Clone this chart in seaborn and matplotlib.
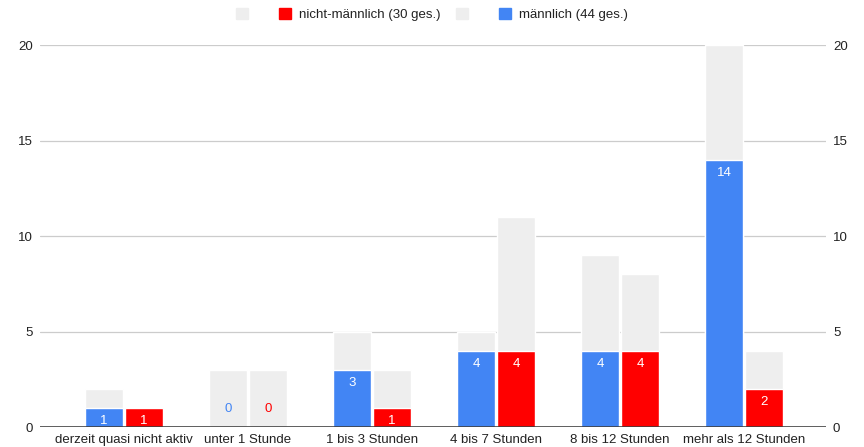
import matplotlib
matplotlib.use('Agg')
import matplotlib.pyplot as plt
import matplotlib.patches as mpatches
import pandas as pd
import seaborn as sns

#######################################################################################################################
# DATA #
#######################################################################################################################

Categories = ['derzeit quasi nicht aktiv', 'unter 1 Stunde', '1 bis 3 Stunden',
              '4 bis 7 Stunden', '8 bis 12 Stunden', 'mehr als 12 Stunden']
Groups = ['männlich', 'nicht-männlich']
Legend_Labels = ['nicht-männlich (30 ges.)', 'männlich (44 ges.)']

Male_Values = [1, 0, 3, 4, 4, 14]
Female_Values = [1, 0, 1, 4, 4, 2]
Male_Totals = [2, 3, 5, 5, 9, 20]
Female_Totals = [1, 3, 3, 11, 8, 4]

Y_Ticks = [0, 5, 10, 15, 20]

#######################################################################################################################
# STYLE #
#######################################################################################################################

Blue = '#4285F4'
Red = '#FF0000'
Gray = '#EEEEEE'
Text_Color = '#222222'
Font_Size = 9.5

sns.set_theme(style='white')
plt.rcParams['font.family'] = ['Liberation Sans', 'DejaVu Sans']

Data = pd.DataFrame({
    'Category': Categories * 2,
    'Group': [Groups[0]] * len(Categories) + [Groups[1]] * len(Categories),
    'Value': Male_Values + Female_Values,
    'Total': Male_Totals + Female_Totals,
})

#######################################################################################################################
# PLOT #
#######################################################################################################################

Figure = plt.figure(figsize=(8.64, 4.47), dpi=100)
Axis = Figure.add_axes([0.0463, 0.0447, 0.9097, 0.8546])

# grey background bars = totals per group, coloured bars = values
sns.barplot(data=Data, x='Category', y='Total', hue='Group', hue_order=Groups, order=Categories,
            palette={Groups[0]: Gray, Groups[1]: Gray}, saturation=1, width=0.645, gap=0.05,
            errorbar=None, legend=False, ax=Axis, zorder=2)
sns.barplot(data=Data, x='Category', y='Value', hue='Group', hue_order=Groups, order=Categories,
            palette={Groups[0]: Blue, Groups[1]: Red}, saturation=1, width=0.645, gap=0.05,
            errorbar=None, legend=False, ax=Axis, zorder=3)

for Container, Values, Color in zip(Axis.containers[2:], [Male_Values, Female_Values], [Blue, Red]):
    Inside = [str(V) if V > 0 else '' for V in Values]
    Zeros = ['0' if V == 0 else '' for V in Values]
    Axis.bar_label(Container, labels=Inside, label_type='edge', padding=-14, color='white',
                   fontsize=Font_Size, zorder=4)
    Axis.bar_label(Container, labels=Zeros, label_type='edge', padding=9, color=Color,
                   fontsize=Font_Size, zorder=4)

Axis.set_xlim(-0.677, 5.661)
Axis.set_ylim(0, 20)
Axis.set_yticks(Y_Ticks)
Axis.set_xlabel('')
Axis.set_ylabel('')
for Spine in Axis.spines.values():
    Spine.set_visible(False)

for Tick in Y_Ticks[1:]:
    Axis.axhline(Tick, color='#CCCCCC', linewidth=0.9, zorder=1)
Axis.axhline(0, color='#333333', linewidth=1.1, zorder=5)

Axis.tick_params(axis='y', left=False, right=False, length=0, labelleft=True, labelright=True,
                 labelsize=Font_Size, labelcolor=Text_Color, pad=5)
Axis.tick_params(axis='x', bottom=False, length=0, labelsize=Font_Size, labelcolor=Text_Color, pad=5)

Handles = [mpatches.Patch(color=Gray), mpatches.Patch(color=Red),
           mpatches.Patch(color=Gray), mpatches.Patch(color=Blue)]
Labels = ['  ', Legend_Labels[0], '  ', Legend_Labels[1]]
Figure.legend(Handles, Labels, loc='center', bbox_to_anchor=(0.5, 0.967), ncol=4, frameon=False,
              fontsize=Font_Size, handlelength=0.9, handleheight=0.9, handletextpad=0.6,
              columnspacing=1.2, labelcolor=Text_Color)

Figure.savefig('out.png', dpi=100)
